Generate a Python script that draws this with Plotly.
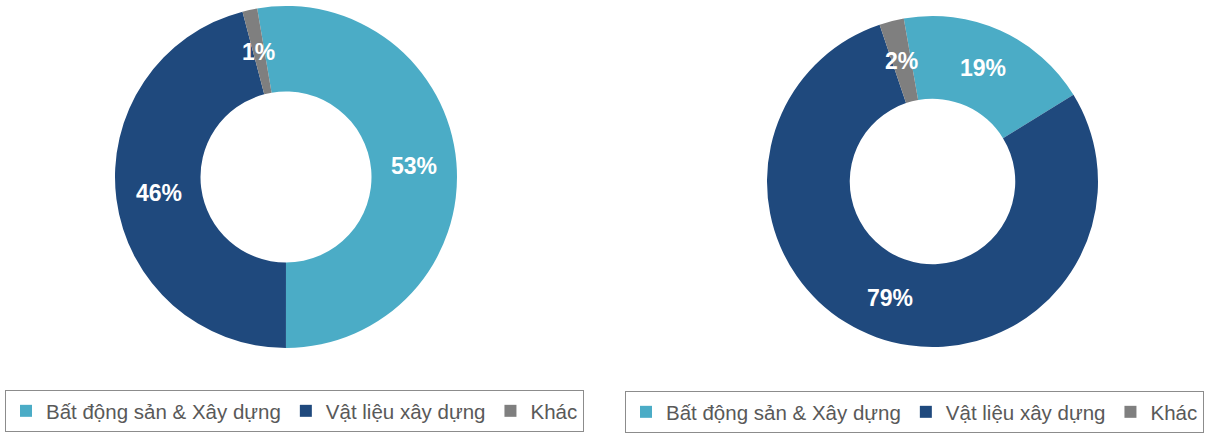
import math
import plotly.graph_objects as go

# Sector shares (%) for the two portfolios
categories = ["Bất động sản & Xây dựng", "Vật liệu xây dựng", "Khác"]
shares_left = [52.7, 45.9, 1.4]
shares_right = [19.0, 78.6, 2.4]
slice_colors = ["#4BACC6", "#1F497D", "#7F7F7F"]

W, H = 1208, 434
HOLE = 0.5
FONT = "Liberation Sans, Arial"

# ring placement in pixels: (left, top, right, bottom) and start angle
rings = [
    dict(values=shares_left, box=(115, 6, 457, 348), rotation=-9.7, legend="legend", suffix=""),
    dict(values=shares_right, box=(767, 16, 1098, 347), rotation=-10.0, legend="legend2", suffix="\u200b"),
]

fig = go.Figure()
annotations = []

for ring in rings:
    x0, y0, x1, y1 = ring["box"]
    fig.add_trace(go.Pie(
        labels=[c + ring["suffix"] for c in categories],
        values=ring["values"],
        hole=HOLE,
        sort=False,
        direction="clockwise",
        rotation=ring["rotation"],
        marker=dict(colors=slice_colors, line=dict(color="white", width=0)),
        textinfo="none",
        domain=dict(x=[x0 / W, x1 / W], y=[1 - y1 / H, 1 - y0 / H]),
        legend=ring["legend"],
        hoverinfo="label+percent",
    ))

    # percentage labels placed mid-ring at each slice's mid angle
    cx, cy = (x0 + x1) / 2, (y0 + y1) / 2
    radius = min(x1 - x0, y1 - y0) / 2
    r_lab = radius * (1 + HOLE) / 2
    total = sum(ring["values"])
    cum = 0.0
    for v in ring["values"]:
        mid = math.radians(ring["rotation"] + (cum + v / 2) / total * 360)
        cum += v
        px = cx + r_lab * math.sin(mid)
        py = cy - r_lab * math.cos(mid)
        annotations.append(dict(
            x=px / W, y=1 - py / H, xref="paper", yref="paper",
            text=f"{round(v / total * 100)}%", showarrow=False,
            xanchor="center", yanchor="middle",
            font=dict(family=FONT, size=23, color="white", weight="bold"),
        ))

legend_style = dict(
    orientation="h",
    xanchor="left",
    yanchor="top",
    bgcolor="white",
    bordercolor="#8C8C8C",
    borderwidth=1,
    font=dict(family=FONT, size=20.5, color="#595959"),
    traceorder="normal",
)

fig.update_layout(
    width=W,
    height=H,
    margin=dict(l=0, r=0, t=0, b=0, autoexpand=False),
    paper_bgcolor="white",
    plot_bgcolor="white",
    annotations=annotations,
    legend=dict(x=5 / W, y=1 - 390 / H, **legend_style),
    legend2=dict(x=625 / W, y=1 - 391 / H, **legend_style),
    showlegend=True,
)

fig.write_html("out.html")
